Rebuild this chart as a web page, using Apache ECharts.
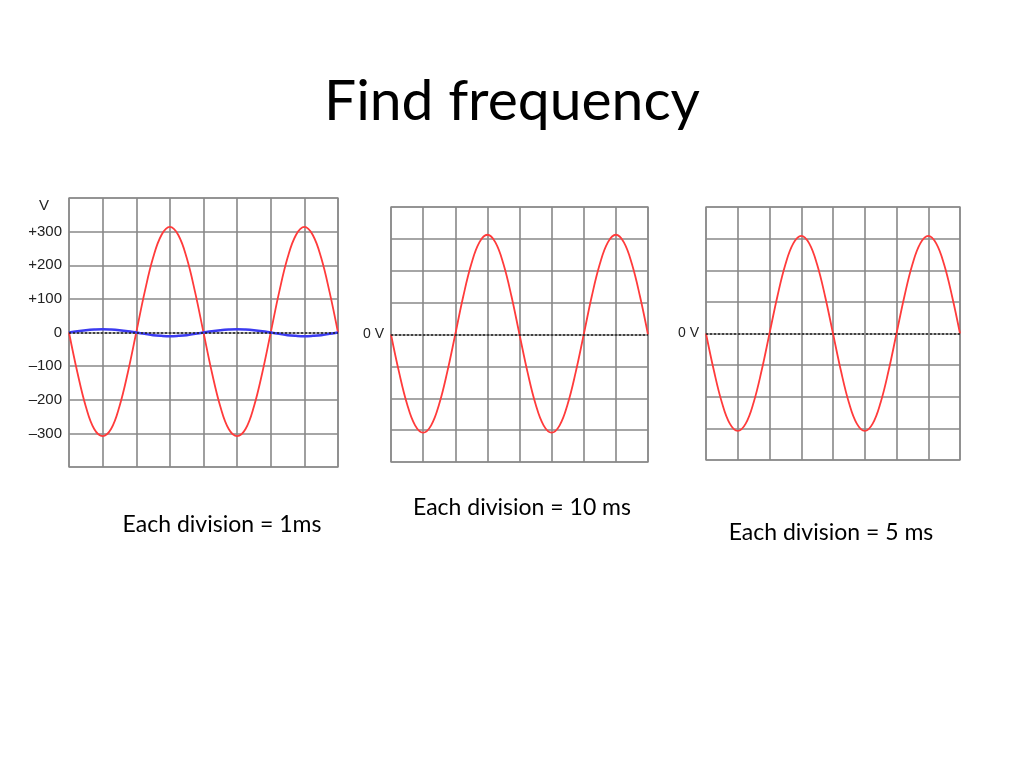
<!DOCTYPE html>
<html>
<head>
<meta charset="utf-8">
<script src="https://cdn.jsdelivr.net/npm/echarts@6/dist/echarts.min.js"></script>
<style>
html,body{margin:0;padding:0;background:#fff;}
#c{width:1024px;height:768px;}
</style>
</head>
<body>
<div id="c"></div>
<script>
// time positions in divisions (0..8)
const tDiv = [0,0.25,0.5,0.75,1,1.25,1.5,1.75,2,2.25,2.5,2.75,3,3.25,3.5,3.75,4,
              4.25,4.5,4.75,5,5.25,5.5,5.75,6,6.25,6.5,6.75,7,7.25,7.5,7.75,8];
// Panel 1 (volts)
const p1Red  = [0,-119,-220,-287,-308,-287,-220,-119,0,120,222,290,314,290,222,120,0,
                -119,-220,-287,-308,-287,-220,-119,0,120,222,290,314,290,222,120,0];
const p1Blue = [0,4,7,9,10,9,7,4,0,-4,-8,-10,-11,-10,-8,-4,0,
                4,7,9,10,9,7,4,0,-4,-8,-10,-11,-10,-8,-4,0];
// Panel 2 (divisions)
const p2Red  = [0,-1.18,-2.18,-2.85,-3.08,-2.85,-2.18,-1.18,0,1.2,2.21,2.89,3.13,2.89,2.21,1.2,0,
                -1.18,-2.18,-2.85,-3.08,-2.85,-2.18,-1.18,0,1.2,2.21,2.89,3.13,2.89,2.21,1.2,0];
// Panel 3 (divisions)
const p3Red  = [0,-1.18,-2.18,-2.85,-3.08,-2.85,-2.18,-1.18,0,1.18,2.18,2.85,3.09,2.85,2.18,1.18,0,
                -1.18,-2.18,-2.85,-3.08,-2.85,-2.18,-1.18,0,1.18,2.18,2.85,3.09,2.85,2.18,1.18,0];
const titleText = 'Find frequency';
const captions = ['Each division = 1ms','Each division = 10 ms','Each division = 5 ms'];

const pairs = (ys) => tDiv.map((t,i)=>[t, ys[i]]);
const gridLine = {show:true, lineStyle:{color:'#888', width:1.6}};
const zeroLine = {
  silent:true, symbol:'none', label:{show:false},
  lineStyle:{color:'#222', type:[2,2], width:1.5},
  data:[{yAxis:0}]
};
function xAxis(gi){
  return {type:'value', gridIndex:gi, min:0, max:8, interval:1,
    axisLine:{show:false}, axisTick:{show:false}, axisLabel:{show:false}, splitLine:gridLine};
}
const chart = echarts.init(document.getElementById('c'));
chart.setOption({
  animation:false,
  backgroundColor:'#fff',
  title:{text:titleText, left:'center', top:68,
    textStyle:{fontFamily:'Lato', fontSize:57, fontWeight:'normal', color:'#000'}},
  graphic:[
    {type:'text', x:222, y:525, style:{text:captions[0], font:'23px Lato', fill:'#000', textAlign:'center', textVerticalAlign:'middle'}},
    {type:'text', x:522, y:508, style:{text:captions[1], font:'23px Lato', fill:'#000', textAlign:'center', textVerticalAlign:'middle'}},
    {type:'text', x:831, y:533, style:{text:captions[2], font:'23px Lato', fill:'#000', textAlign:'center', textVerticalAlign:'middle'}}
  ],
  grid:[
    {left:69, top:198, width:269, height:269, show:true, borderColor:'#a0a0a0', borderWidth:1.5},
    {left:391, top:207, width:257, height:255, show:true, borderColor:'#a0a0a0', borderWidth:1.5},
    {left:706, top:207, width:254, height:253, show:true, borderColor:'#a0a0a0', borderWidth:1.5}
  ],
  xAxis:[xAxis(0), xAxis(1), xAxis(2)],
  yAxis:[
    {type:'value', gridIndex:0, min:-400, max:400, interval:100,
      name:'V', nameLocation:'end', nameGap:-8,
      nameTextStyle:{fontFamily:'Liberation Sans', fontSize:15, color:'#222', align:'right', verticalAlign:'middle', padding:[0,20,0,0]},
      axisLine:{show:false}, axisTick:{show:false}, splitLine:gridLine,
      axisLabel:{fontFamily:'Liberation Sans', fontSize:15, color:'#222', margin:7,
        formatter:(v)=> Math.abs(v)>=400 ? '' : (v>0 ? '+'+v : (v<0 ? '\u2013'+(-v) : '0'))}},
    {type:'value', gridIndex:1, min:-4, max:4, interval:1,
      axisLine:{show:false}, axisTick:{show:false}, splitLine:gridLine,
      axisLabel:{fontFamily:'Liberation Sans', fontSize:14, color:'#222', margin:7,
        formatter:(v)=> v===0 ? '0 V' : ''}},
    {type:'value', gridIndex:2, min:-4, max:4, interval:1,
      axisLine:{show:false}, axisTick:{show:false}, splitLine:gridLine,
      axisLabel:{fontFamily:'Liberation Sans', fontSize:14, color:'#222', margin:7,
        formatter:(v)=> v===0 ? '0 V' : ''}}
  ],
  series:[
    {type:'line', xAxisIndex:0, yAxisIndex:0, data:pairs(p1Red), smooth:0.4, symbol:'none',
      lineStyle:{color:'#ff3b3b', width:1.8}, z:3},
    {type:'line', xAxisIndex:0, yAxisIndex:0, data:pairs(p1Blue), smooth:0.4, symbol:'none',
      lineStyle:{color:'#3b3bf0', width:2.5}, markLine:zeroLine, z:4},
    {type:'line', xAxisIndex:1, yAxisIndex:1, data:pairs(p2Red), smooth:0.4, symbol:'none',
      lineStyle:{color:'#ff3b3b', width:1.8}, markLine:zeroLine, z:3},
    {type:'line', xAxisIndex:2, yAxisIndex:2, data:pairs(p3Red), smooth:0.4, symbol:'none',
      lineStyle:{color:'#ff3b3b', width:1.8}, markLine:zeroLine, z:3}
  ]
});
</script>
</body>
</html>
